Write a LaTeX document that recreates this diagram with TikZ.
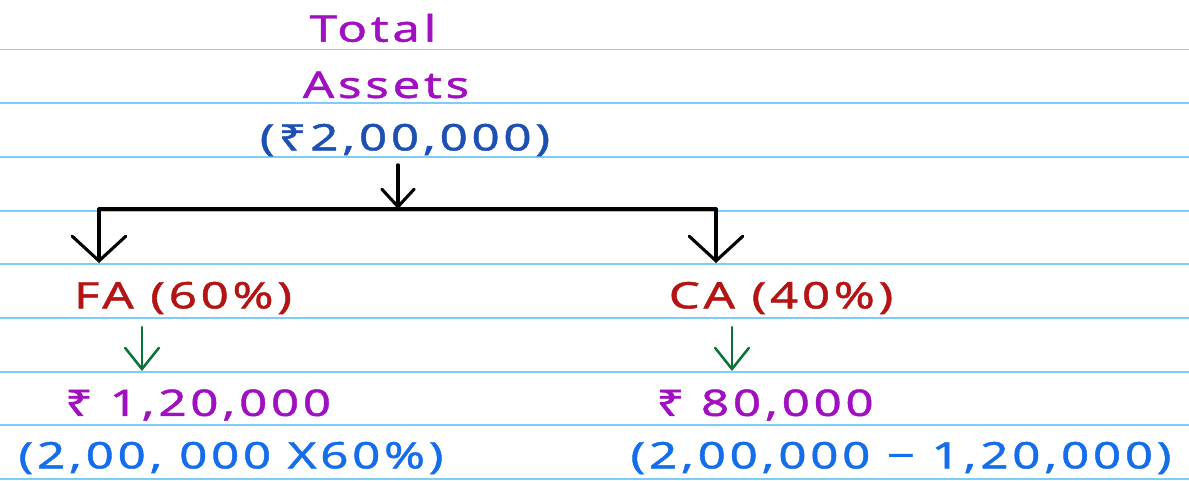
\documentclass[tikz,border=0pt]{standalone}
\usepackage{fontspec}
\usetikzlibrary{positioning, arrows.meta, calc}
\newfontfamily\hand[FakeStretch=1.35, LetterSpace=10, FakeBold=1.2]{Noto Sans}
\definecolor{rulblue}{RGB}{125,205,245}
\definecolor{penpurple}{RGB}{160,16,192}
\definecolor{pendblue}{RGB}{30,80,180}
\definecolor{penblue}{RGB}{20,110,235}
\definecolor{penred}{RGB}{180,20,20}
\definecolor{pengreen}{RGB}{10,115,55}

\begin{document}
\begin{tikzpicture}[x=0.025cm, y=-0.025cm,
      tulis/.style={inner sep=0pt, anchor=center, font=\hand\fontsize{26pt}{30pt}\selectfont},
      garis/.style={line width=2.2pt, line cap=round, line join=round},
      panah/.style={garis, -{Straight Barb[length=17.5pt, width=38pt, line cap=round]}},
      panahkecil/.style={garis, -{Straight Barb[length=12.5pt, width=23pt, line cap=round]}},
      hpanah/.style={line width=1.8pt, line cap=round, draw=pengreen, -{Straight Barb[length=15pt, width=24pt, line cap=round]}}
    ]
    \useasboundingbox (0,0) rectangle (1189,480);

    % ─── Ruled paper ─────────────────────────────────────────────
    \foreach \k in {0,...,8}
      \draw[rulblue, line width=1.4pt] (0,49.5+53.7*\k) -- (1189,49.5+53.7*\k);

    % ─── Top: total assets ───────────────────────────────────────
    \node[tulis, text=penpurple] (ttl) at (373, 28) {Total};
    \node[tulis, text=penpurple] (ast) at (386, 85) {Assets};
    \node[tulis, text=pendblue]  (tot) at (405, 140) {(₹2,00,000)};

    % ─── Branch ──────────────────────────────────────────────────
    \coordinate (jn)  at (398, 209);
    \coordinate (lft) at (99, 209);
    \coordinate (rgt) at (716, 209);
    \coordinate (lftend) at (99, 263);
    \coordinate (rgtend) at (716, 263);

    % ─── FA / CA ─────────────────────────────────────────────────
    \node[tulis, text=penred] (fa) at (183, 298) {FA (60\%)};
    \node[tulis, text=penred] (ca) at (781, 298) {CA (40\%)};

    \coordinate (fatip) at (142, 371);
    \coordinate (catip) at (732, 371);

    \node[tulis, text=penpurple] (fav) at (198, 405) {₹ 1,20,000};
    \node[tulis, text=penpurple] (cav) at (765, 405) {₹ 80,000};

    \node[tulis, text=penblue] (fac) at (231, 458) {(2,00, 000 X60\%)};
    \node[tulis, text=penblue] (cac) at (901, 458) {(2,00,000 − 1,20,000)};

    % ─── Arrows ──────────────────────────────────────────────────
    \draw[panahkecil] ([yshift=-6pt]jn |- tot.south) -- (jn);
    \draw[garis] (lft) -- (rgt);
    \draw[panah] (lft) -- (lftend);
    \draw[panah] (rgt) -- (rgtend);

    \draw[hpanah] ([yshift=-9pt]fatip |- fa.south) -- (fatip);
    \draw[hpanah] ([yshift=-9pt]catip |- ca.south) -- (catip);

\end{tikzpicture}
\end{document}
